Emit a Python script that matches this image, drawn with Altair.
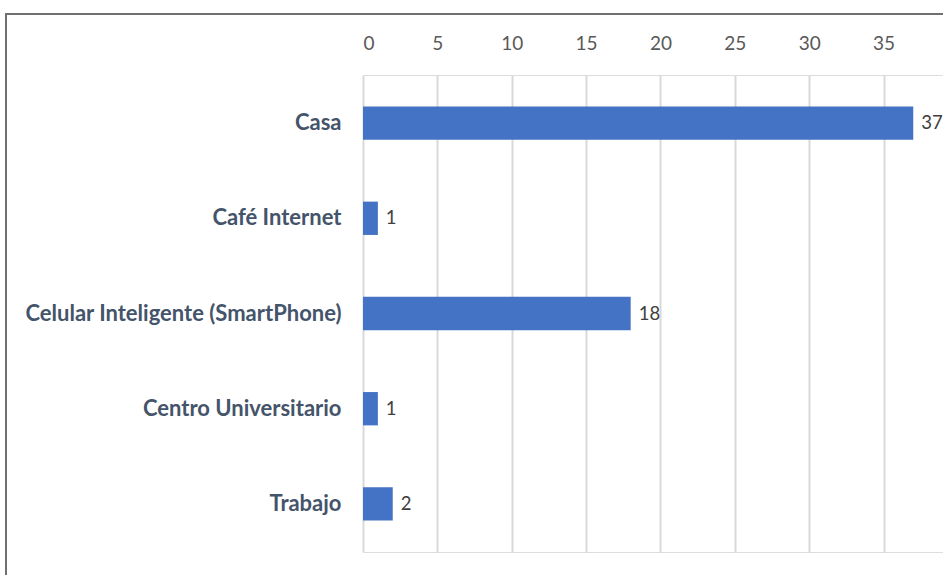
import altair as alt
import pandas as pd

categories = ["Casa", "Café Internet", "Celular Inteligente (SmartPhone)", "Centro Universitario", "Trabajo"]
values = [37, 1, 18, 1, 2]
x_ticks = [0, 5, 10, 15, 20, 25, 30, 35]

df = pd.DataFrame({"lugar": categories, "n": values})

x_enc = alt.X("n:Q", scale=alt.Scale(domain=[0, 39], nice=False),
              axis=alt.Axis(orient="top", values=x_ticks, title=None, domain=False, ticks=False,
                            grid=True, gridColor="#d9d9d9", gridWidth=2,
                            labelFont="Lato", labelFontSize=19, labelColor="#595959",
                            labelPadding=22))
y_enc = alt.Y("lugar:N", sort=categories,
              scale=alt.Scale(paddingInner=0.65, paddingOuter=0.33),
              axis=alt.Axis(title=None, domain=False, ticks=False, labelFont="Lato",
                            labelFontSize=22, labelFontWeight="bold", labelColor="#44546A",
                            labelPadding=22, labelLimit=0))

bars = alt.Chart(df).mark_bar(color="#4472C4").encode(x=x_enc, y=y_enc)
labels = alt.Chart(df).mark_text(align="left", dx=8, font="Lato", fontSize=18.5,
                                 color="#404040").encode(x="n:Q", y=alt.Y("lugar:N", sort=categories),
                                                         text="n:Q")
frame = alt.Chart(df).mark_rect(fill=None, stroke="#707070", strokeWidth=2).encode(
    x=alt.value(-357), x2=alt.value(640), y=alt.value(-61), y2=alt.value(560))

chart = alt.layer(frame, bars, labels).properties(
    width=580, height=477,
    autosize=alt.AutoSizeParams(type="none"),
    padding={"left": 363, "top": 75, "right": 0, "bottom": 23}
).configure_view(stroke=None).configure(background="white")

chart.save("out.html", embed_options={"renderer": "svg", "actions": False})
